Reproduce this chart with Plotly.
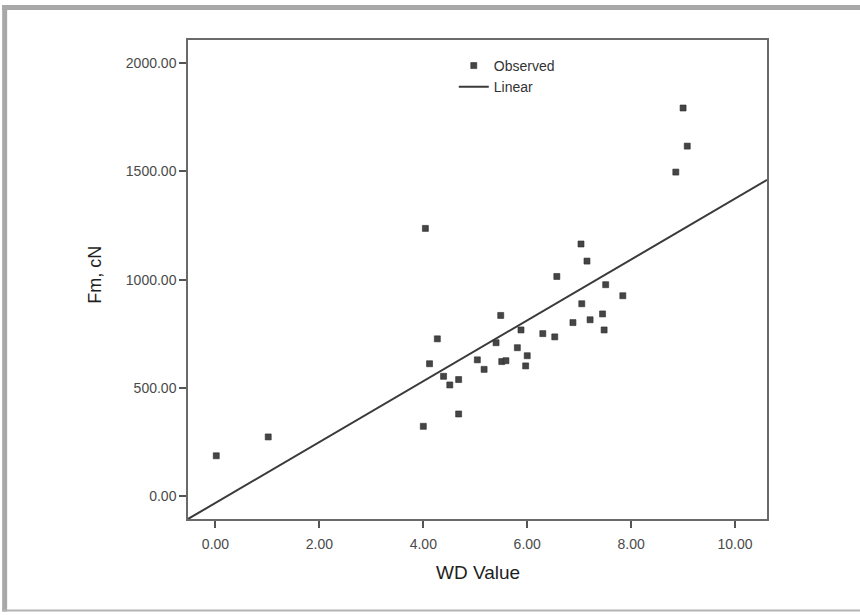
import plotly.graph_objects as go
import numpy as np

# ---- data ----
wd_value = [0.015, 1.015, 4.00, 4.04, 4.12, 4.27, 4.39, 4.51, 4.68, 4.68,
            5.04, 5.17, 5.40, 5.49, 5.51, 5.59, 5.81, 5.88, 5.97, 6.00,
            6.30, 6.53, 6.57, 6.88, 7.035, 7.05, 7.15, 7.21, 7.45, 7.48,
            7.51, 7.84, 8.86, 9.00, 9.08]
fm_cn = [187, 274, 323, 1237, 612, 727, 554, 514, 539, 380,
         630, 586, 709, 835, 622, 626, 686, 768, 602, 649,
         751, 736, 1015, 802, 1165, 889, 1086, 815, 842, 768,
         977, 926, 1497, 1793, 1617]

fit_intercept = -30.7
fit_slope = 140.5

x_range = [-0.529, 10.615]
y_range = [-105, 2107]

x_ticks = [0, 2, 4, 6, 8, 10]
x_ticktext = ["0.00", "2.00", "4.00", "6.00", "8.00", "10.00"]
y_ticks = [0, 500, 1000, 1500, 2000]
y_ticktext = ["0.00", "500.00", "1000.00", "1500.00", "2000.00"]

# ---- layout geometry ----
W, H = 860, 615
L, R, T, B = 188, 767.5, 40, 519.5


def px(xp):
    return (xp - L) / (R - L)


def py(yp):
    return (B - yp) / (B - T)


FONT = "Arial, Liberation Sans, sans-serif"

fig = go.Figure()
fig.add_trace(go.Scatter(
    x=wd_value, y=fm_cn, mode="markers", name="Observed",
    marker=dict(symbol="square", size=6, color="#454545",
                line=dict(width=0.6, color="#2e2e2e")),
))
line_x = np.array(x_range)
fig.add_trace(go.Scatter(
    x=line_x, y=fit_intercept + fit_slope * line_x, mode="lines", name="Linear",
    line=dict(color="#3a3a3a", width=2),
))

axis_common = dict(
    showline=True, mirror=True, linecolor="#6a6a6a", linewidth=1.5,
    ticks="outside", ticklen=7, tickwidth=2, tickcolor="#555555",
    showgrid=False, zeroline=False,
    tickfont=dict(family=FONT, size=14, color="#4a4a4a"),
)

fig.update_layout(
    width=W, height=H,
    margin=dict(l=L, r=W - R, t=T, b=H - B, autoexpand=False),
    paper_bgcolor="white", plot_bgcolor="white",
    xaxis=dict(range=x_range, tickvals=x_ticks, ticktext=x_ticktext,
               ticklabelstandoff=4, **axis_common),
    yaxis=dict(range=y_range, tickvals=y_ticks, ticktext=y_ticktext, **axis_common),
    showlegend=True,
    legend=dict(x=px(454), y=py(50), xanchor="left", yanchor="top",
                bgcolor="rgba(0,0,0,0)", borderwidth=0,
                font=dict(family=FONT, size=14, color="#333333")),
    annotations=[
        dict(text="WD Value", x=0.5, y=py(573), xref="paper", yref="paper",
             showarrow=False, xanchor="center", yanchor="middle",
             font=dict(family=FONT, size=19, color="#1e1e1e")),
        dict(text="Fm, cN", x=px(95), y=py(275), xref="paper", yref="paper",
             showarrow=False, textangle=-90, xanchor="center", yanchor="middle",
             font=dict(family=FONT, size=18, color="#1e1e1e")),
    ],
    shapes=[
        # outer gray frame (top band, left band, bottom line)
        dict(type="rect", xref="paper", yref="paper", x0=px(2), x1=px(W + 5),
             y0=py(10), y1=py(5), fillcolor="#a8a8a8", line_width=0, layer="below"),
        dict(type="rect", xref="paper", yref="paper", x0=px(2), x1=px(7),
             y0=py(612), y1=py(5), fillcolor="#a8a8a8", line_width=0, layer="below"),
        dict(type="rect", xref="paper", yref="paper", x0=px(2), x1=px(W + 5),
             y0=py(612), y1=py(610), fillcolor="#b4b4b4", line_width=0, layer="below"),
    ],
)

fig.write_html(
    "out.html",
    config={"displayModeBar": False},
    post_script="document.body.style.margin='0px';document.body.style.overflow='hidden';",
)
